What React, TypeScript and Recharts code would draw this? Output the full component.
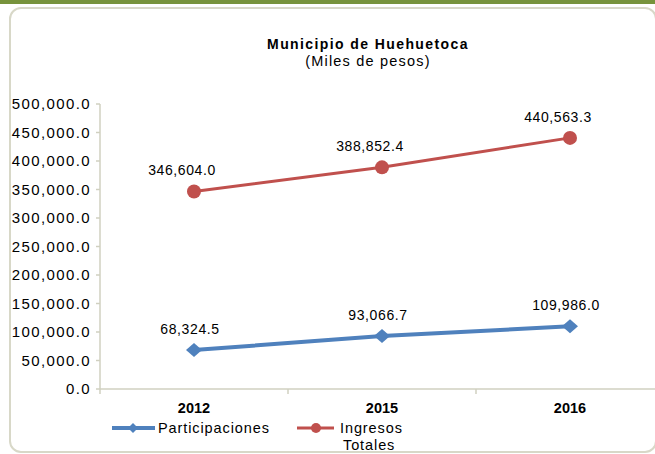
import React from 'react';
import { LineChart, Line, XAxis, YAxis, LabelList } from 'recharts';

const years = ['2012', '2015', '2016'];
const participaciones = [68324.5, 93066.7, 109986.0];
const ingresosTotales = [346604.0, 388852.4, 440563.3];
const yTicks = [0, 50000, 100000, 150000, 200000, 250000, 300000, 350000, 400000, 450000, 500000];
const seriesNames = ['Participaciones', 'Ingresos Totales'];

const data = years.map((year, i) => ({
  year,
  participaciones: participaciones[i],
  ingresos: ingresosTotales[i],
}));

const FONT = '"Liberation Sans", Arial, sans-serif';
const BLUE = '#4F81BD';
const RED = '#C0504D';
const AXIS = '#D0D0C0';

const CHART_W = 700;
const CHART_H = 454;
const MARGIN = { top: 104, right: 36, bottom: 35, left: 0 };
const Y_AXIS_W = 100;
const BAND = (CHART_W - MARGIN.left - MARGIN.right - Y_AXIS_W) / years.length;

const fmt = (v: number) =>
  v.toLocaleString('en-US', { minimumFractionDigits: 1, maximumFractionDigits: 1 });

const YearTick = (props: any) => {
  const { x, y, payload } = props;
  return (
    <g>
      <line x1={x - BAND / 2} x2={x - BAND / 2} y1={y} y2={y + 5} stroke={AXIS} strokeWidth={1.5} />
      <text x={x} y={y + 23.5} textAnchor="middle" fontSize={14.5} fontWeight="bold" fontFamily={FONT} fill="#000">
        {payload.value}
      </text>
    </g>
  );
};

const ValueTick = (props: any) => {
  const { x, y, payload } = props;
  return (
    <text x={x} y={y + 5} textAnchor="end" fontSize={15} letterSpacing={1.4} fontFamily={FONT} fill="#000">
      {fmt(payload.value)}
    </text>
  );
};

const Diamond = (props: any) => {
  const { cx, cy } = props;
  if (cx == null || cy == null) return null;
  return <polygon points={`${cx},${cy - 7} ${cx + 8},${cy} ${cx},${cy + 7} ${cx - 8},${cy}`} fill={BLUE} />;
};

const RedDot = (props: any) => {
  const { cx, cy } = props;
  if (cx == null || cy == null) return null;
  return <circle cx={cx} cy={cy} r={7} fill={RED} />;
};

const makeLabel = (dx: number) => (props: any) => {
  const { x, y, value } = props;
  return (
    <text x={x + dx} y={y - 16} textAnchor="middle" fontSize={14} letterSpacing={0.6} fontFamily={FONT} fill="#000">
      {fmt(value)}
    </text>
  );
};

export default function App() {
  return (
    <div
      style={{
        position: 'fixed',
        left: 0,
        top: 0,
        width: 655,
        height: 454,
        overflow: 'hidden',
        background: '#fff',
        fontFamily: FONT,
      }}
    >
      <div style={{ position: 'absolute', left: 0, top: 0, width: 655, height: 4, background: '#77933C' }} />
      <div
        style={{
          position: 'absolute',
          left: 9,
          top: 7,
          width: 644,
          height: 442,
          border: '2px solid #D8D8C8',
          borderRadius: 12,
        }}
      />
      <div
        style={{
          position: 'absolute',
          left: 218,
          top: 36,
          width: 300,
          textAlign: 'center',
          color: '#000',
          lineHeight: '17px',
        }}
      >
        <div style={{ fontWeight: 'bold', fontSize: 14, letterSpacing: 1.4 }}>Municipio de Huehuetoca</div>
        <div style={{ fontSize: 14.5, letterSpacing: 1.2 }}>(Miles de pesos)</div>
      </div>
      <div style={{ position: 'absolute', left: 0, top: 0 }}>
        <LineChart width={CHART_W} height={CHART_H} data={data} margin={MARGIN}>
          <XAxis
            dataKey="year"
            scale="band"
            height={30}
            axisLine={{ stroke: AXIS, strokeWidth: 1.5 }}
            tickLine={false}
            tickSize={0}
            tickMargin={0}
            interval={0}
            tick={<YearTick />}
          />
          <YAxis
            width={Y_AXIS_W}
            domain={[0, 500000]}
            ticks={yTicks}
            interval={0}
            axisLine={{ stroke: AXIS, strokeWidth: 1.5 }}
            tickLine={{ stroke: AXIS, strokeWidth: 1.5 }}
            tickSize={4}
            tickMargin={5}
            tick={<ValueTick />}
          />
          <Line
            dataKey="participaciones"
            name={seriesNames[0]}
            stroke={BLUE}
            strokeWidth={4}
            dot={<Diamond />}
            activeDot={false}
            isAnimationActive={false}
          >
            <LabelList dataKey="participaciones" content={makeLabel(-4)} />
          </Line>
          <Line
            dataKey="ingresos"
            name={seriesNames[1]}
            stroke={RED}
            strokeWidth={3}
            dot={<RedDot />}
            activeDot={false}
            isAnimationActive={false}
          >
            <LabelList dataKey="ingresos" content={makeLabel(-12)} />
          </Line>
        </LineChart>
      </div>
      <svg style={{ position: 'absolute', left: 0, top: 0 }} width={655} height={454}>
        <line x1={112} x2={155} y1={428} y2={428} stroke={BLUE} strokeWidth={4} />
        <polygon points="133,423 138,428 133,433 128,428" fill={BLUE} />
        <text x={158} y={433} fontSize={14.5} letterSpacing={0.9} fontFamily={FONT} fill="#000">
          {seriesNames[0]}
        </text>
        <line x1={297} x2={334} y1={428} y2={428} stroke={RED} strokeWidth={3} />
        <circle cx={316} cy={428} r={5} fill={RED} />
        <text x={340} y={433} fontSize={14.5} letterSpacing={0.9} fontFamily={FONT} fill="#000">
          {seriesNames[1].split(' ').map((w, i) => (
            <tspan key={w} x={i === 0 ? 340 : 343} dy={i === 0 ? 0 : 17}>
              {w}
            </tspan>
          ))}
        </text>
      </svg>
    </div>
  );
}
